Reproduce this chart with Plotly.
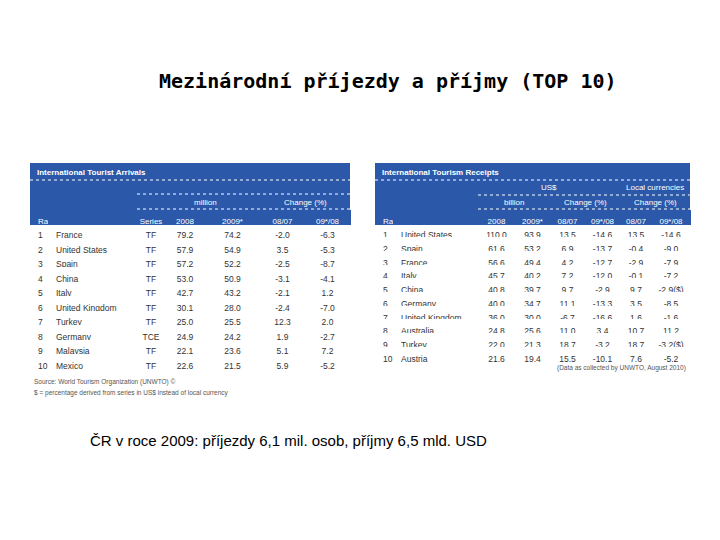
import plotly.graph_objects as go

W, H = 720, 540
OFF = 8  # page body margin
def px(x): return (x - OFF) / W
def py(y): return 1 - (y - OFF) / H

ranks = [str(i) for i in range(1, 11)]
arr_countries = ["France", "United States", "Spain", "China", "Italy", "United Kingdom", "Turkey", "Germany", "Malaysia", "Mexico"]
arr_series = ["TF"] * 7 + ["TCE", "TF", "TF"]
arr_2008 = ["79.2", "57.9", "57.2", "53.0", "42.7", "30.1", "25.0", "24.9", "22.1", "22.6"]
arr_2009 = ["74.2", "54.9", "52.2", "50.9", "43.2", "28.0", "25.5", "24.2", "23.6", "21.5"]
arr_ch0807 = ["-2.0", "3.5", "-2.5", "-3.1", "-2.1", "-2.4", "12.3", "1.9", "5.1", "5.9"]
arr_ch0908 = ["-6.3", "-5.3", "-8.7", "-4.1", "1.2", "-7.0", "2.0", "-2.7", "7.2", "-5.2"]

rec_countries = ["United States", "Spain", "France", "Italy", "China", "Germany", "United Kingdom", "Australia", "Turkey", "Austria"]
rec_2008 = ["110.0", "61.6", "56.6", "45.7", "40.8", "40.0", "36.0", "24.8", "22.0", "21.6"]
rec_2009 = ["93.9", "53.2", "49.4", "40.2", "39.7", "34.7", "30.0", "25.6", "21.3", "19.4"]
rec_usd_0807 = ["13.5", "6.9", "4.2", "7.2", "9.7", "11.1", "-6.7", "11.0", "18.7", "15.5"]
rec_usd_0908 = ["-14.6", "-13.7", "-12.7", "-12.0", "-2.9", "-13.3", "-16.6", "3.4", "-3.2", "-10.1"]
rec_loc_0807 = ["13.5", "-0.4", "-2.9", "-0.1", "9.7", "3.5", "1.6", "10.7", "18.7", "7.6"]
rec_loc_0908 = ["-14.6", "-9.0", "-7.9", "-7.2", "-2.9($)", "-8.5", "-1.6", "11.2", "-3.2($)", "-5.2"]

BLUE = "#2b58a8"
TXT = "#333333"
FONT = "Liberation Sans Narrow, Liberation Sans, Arial"

fig = go.Figure()

def table(x0, x1, ytop, ybot, headers, cols, widths, aligns, cellh):
    fig.add_trace(go.Table(
        domain=dict(x=[px(x0), px(x1)], y=[py(ybot), py(ytop)]),
        columnwidth=widths,
        header=dict(values=headers, fill_color=BLUE, line_color=BLUE,
                    font=dict(color="white", size=8, family=FONT), align=aligns, height=14),
        cells=dict(values=cols, fill_color="white", line_color="white",
                   font=dict(color=TXT, size=8.5, family=FONT), align=aligns, height=cellh),
    ))

table(30, 350, 210, 380,
      ["Rank", "", "Series", "2008", "2009*", "08/07", "09*/08"],
      [ranks, arr_countries, arr_series, arr_2008, arr_2009, arr_ch0807, arr_ch0908],
      [18, 89, 28, 40, 55, 45, 45],
      ["left", "left", "center", "center", "center", "center", "center"], 14.5)
table(375, 690, 210, 372,
      ["Rank", "", "2008", "2009*", "08/07", "09*/08", "08/07", "09*/08"],
      [ranks, rec_countries, rec_2008, rec_2009, rec_usd_0807, rec_usd_0908, rec_loc_0807, rec_loc_0908],
      [18, 85, 37, 35, 35, 35, 32, 38],
      ["left", "left", "center", "center", "center", "center", "center", "center"], 13.7)

shapes = []
for x0, x1 in [(30, 350), (375, 690)]:
    shapes.append(dict(type="rect", xref="paper", yref="paper", x0=px(x0), x1=px(x1),
                       y0=py(211), y1=py(163), fillcolor=BLUE, line_width=0, layer="below"))
    shapes.append(dict(type="line", xref="paper", yref="paper", x0=px(x0), x1=px(x1),
                       y0=py(180), y1=py(180), line=dict(color="white", width=1, dash="dot")))
for (x0, x1, y) in [(137, 350, 194), (137, 350, 209), (478, 690, 195), (478, 690, 209)]:
    shapes.append(dict(type="line", xref="paper", yref="paper", x0=px(x0), x1=px(x1),
                       y0=py(y), y1=py(y), line=dict(color="white", width=1, dash="dot")))

ann = []
def A(text, x, y, size=8, color="white", xanchor="center", family=FONT, bold=False):
    ann.append(dict(text=("<b>%s</b>" % text) if bold else text, x=px(x), y=py(y), xref="paper", yref="paper",
                    showarrow=False, xanchor=xanchor, yanchor="middle",
                    font=dict(size=size, color=color, family=family)))

A("International Tourist Arrivals", 35, 172, bold=True, xanchor="left")
A("million", 205, 202)
A("Change (%)", 305, 202)
A("International Tourism Receipts", 380, 172, bold=True, xanchor="left")
A("US$", 549, 187)
A("Local currencies", 655, 187)
A("billion", 514, 202)
A("Change (%)", 585, 202)
A("Change (%)", 655, 202)
A("Source: World Tourism Organization (UNWTO) ©", 32, 382, size=6.5, color="#555555", xanchor="left")
A("$ = percentage derived from series in US$ instead of local currency", 32, 393, size=6.5, color="#555555", xanchor="left")
A("(Data as collected by UNWTO, August 2010)", 688, 368, size=6.5, color="#555555", xanchor="right")

ann.append(dict(text="<b>Mezinárodní příjezdy a příjmy (TOP 10)</b>", x=px(388), y=py(81),
                xref="paper", yref="paper", showarrow=False, xanchor="center", yanchor="middle",
                font=dict(size=20, color="black", family="DejaVu Sans Mono")))
ann.append(dict(text="ČR v roce 2009: příjezdy 6,1 mil. osob, příjmy 6,5 mld. USD", x=px(88), y=py(440),
                xref="paper", yref="paper", showarrow=False, xanchor="left", yanchor="middle",
                font=dict(size=15, color="black", family="Liberation Sans")))

fig.update_layout(width=W, height=H, margin=dict(l=0, r=0, t=0, b=0),
                  paper_bgcolor="white", plot_bgcolor="white",
                  shapes=shapes, annotations=ann, showlegend=False)
fig.write_html("out.html")
